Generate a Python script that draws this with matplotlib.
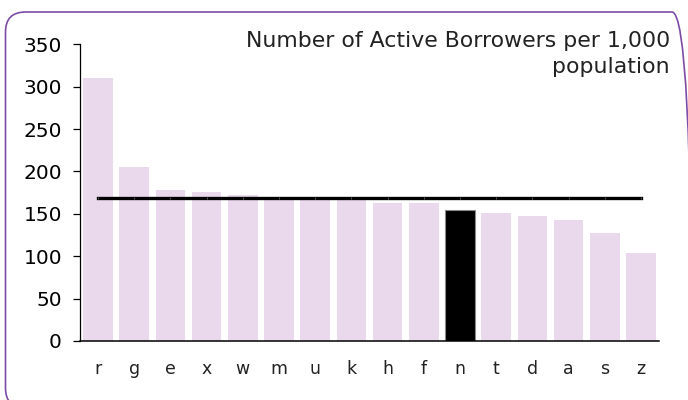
import matplotlib
matplotlib.use("Agg")
import matplotlib.pyplot as plt
from matplotlib.patches import FancyBboxPatch
from matplotlib.transforms import IdentityTransform

categories = ["r", "g", "e", "x", "w", "m", "u", "k", "h", "f", "n", "t", "d", "a", "s", "z"]
values = [310, 205, 178, 176, 172, 169, 169, 169, 163, 163, 154, 151, 148, 143, 127, 104]
average = [168.5] * len(categories)
highlight = "n"
yticks = [0, 50, 100, 150, 200, 250, 300, 350]
title = "Number of Active Borrowers per 1,000\npopulation"

plt.rcParams['font.family'] = ['DejaVu Sans']

fig = plt.figure(figsize=(6.88, 4.0), dpi=100)
fig.patch.set_facecolor("white")

# rounded border (pixel coordinates, origin bottom-left)
border = FancyBboxPatch((5.5, -8), 692 - 5.5, 388 + 8,
                        boxstyle="round,pad=0,rounding_size=20",
                        transform=IdentityTransform(), facecolor="none",
                        edgecolor="#7B4BA6", linewidth=1.2, clip_on=False)
fig.patches.append(border)

ax = fig.add_axes([80 / 688, 1 - 341 / 400, (659 - 80) / 688, (341 - 44.3) / 400])
x = list(range(len(categories)))
colors = ["black" if c == highlight else "#EAD9EC" for c in categories]
bars = ax.bar(x, values, width=0.82, color=colors, zorder=2)
for b, c in zip(bars, categories):
    if c == highlight:
        b.set_edgecolor("#8a8a8a")
        b.set_linewidth(0.8)

ax.plot(x, average, color="black", linewidth=2.4, zorder=3,
        marker="|", markersize=2, markeredgecolor="#777777", markeredgewidth=0.5)

ax.set_xlim(-0.5, len(categories) - 0.5)
ax.set_ylim(0, 350)
ax.set_yticks(yticks)
ax.set_yticklabels([str(v) for v in yticks])
ax.set_xticks(x)
ax.set_xticklabels(categories)

for s in ["top", "right"]:
    ax.spines[s].set_visible(False)
ax.spines["left"].set_linewidth(0.9)
ax.spines["bottom"].set_linewidth(1.1)
ax.tick_params(axis="y", direction="out", length=5, width=0.9, pad=8, labelsize=14.5, colors="black")
ax.tick_params(axis="x", length=0, pad=14, labelsize=12.5, labelcolor="#222222")

fig.text(670 / 688, 1 - 31 / 400, title, ha="right", va="top", fontsize=15.8,
         multialignment="right", linespacing=1.4, color="#222222")

fig.savefig("out.png", dpi=100)
